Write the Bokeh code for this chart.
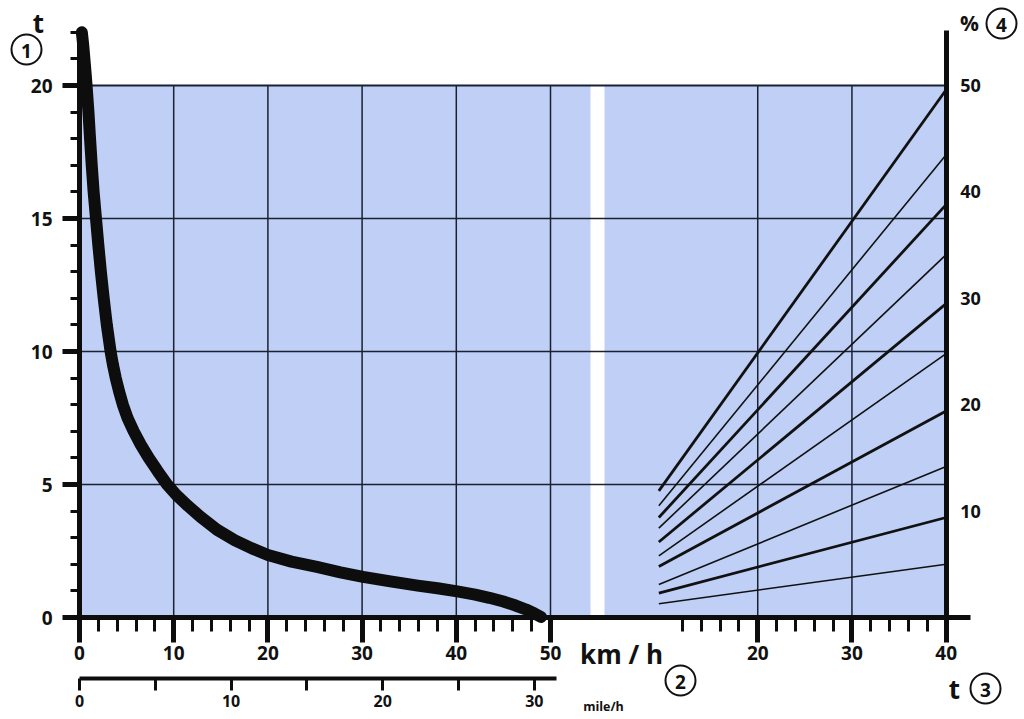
from bokeh.plotting import figure
from bokeh.models import Range1d, LinearAxis, FixedTicker, ColumnDataSource
from bokeh.core.properties import value
from bokeh.embed import file_html
from bokeh.resources import INLINE

# ---------------- data ----------------
# left diagram: time t vs speed km/h (thick curve)
speed_kmh = [0.25, 0.4, 0.52, 0.64, 0.75, 0.95, 1.12, 1.3, 1.5, 1.75, 2.0, 2.27, 2.57,
             2.9, 3.3, 3.55, 3.85, 4.2, 4.6, 5.1, 5.75, 6.5, 7.35, 8.3, 9.3, 10.3, 11.5,
             12.8, 14.6, 16.5, 18.3, 20.0, 22.5, 25.2, 27.7, 30.1, 33.0, 35.9, 38.0,
             40.1, 42.0, 43.5, 45.0, 46.3, 47.4, 48.3, 49.0]
time_t = [22.0, 21.5, 21.0, 20.5, 20.0, 19.0, 18.0, 17.0, 16.0, 15.0, 14.0, 13.0, 12.0,
          11.0, 10.0, 9.5, 9.0, 8.5, 8.0, 7.5, 7.0, 6.5, 6.0, 5.5, 5.0, 4.6, 4.2,
          3.8, 3.3, 2.9, 2.6, 2.35, 2.1, 1.9, 1.7, 1.53, 1.36, 1.2, 1.1,
          0.98, 0.86, 0.74, 0.6, 0.45, 0.3, 0.15, 0.02]

# right diagram: % vs t (fan of lines)
fan_t_start = 9.5
fan_t_end = 40
fan_pct_start = [11.9, 10.5, 9.4, 8.4, 7.1, 5.8, 4.8, 3.1, 2.3, 1.3]
fan_pct_end = [49.6, 43.5, 38.8, 34.1, 29.5, 24.8, 19.4, 14.2, 9.4, 5.0]
fan_thick = [True, False, True, False, True, False, True, False, True, False]

# axes / ticks
y_ticks = [0, 5, 10, 15, 20]
y_minor = [i for i in range(1, 23) if i % 5]
kmh_ticks = [0, 10, 20, 30, 40, 50]
kmh_minor = [v for v in range(2, 50, 2) if v % 10]
t_right_ticks = [20, 30, 40]
t_right_minor = [t for t in range(12, 40, 2) if t % 10]
pct_ticks = [10, 20, 30, 40, 50]
mph_ticks = [0, 5, 10, 15, 20, 25, 30]
mph_hidden = [5, 15, 25]
grid_kmh = [10, 20, 30, 40, 50]
grid_t_right = [20, 30]
grid_t = [5, 10, 15, 20]

# ---------------- layout helpers ----------------
T_OFFSET = 52          # right diagram t is drawn at km/h position t + 52
KMH_PER_MPH = 1.609344
PCT_PER_T = 2.5        # right % scale: 50 % at t = 20 of left scale
PXV, PXT = 9.42, 26.6
X0, Y0 = 79, 617
W, H = 1024, 719


def dx(sx):
    return (sx - X0) / PXV


def dy(sy):
    return (Y0 - sy) / PXT


p = figure(width=W, height=H, x_range=Range1d(dx(0), dx(W)),
           y_range=Range1d(dy(H), dy(0)), output_backend="svg",
           toolbar_location=None, min_border=0, x_axis_type=None, y_axis_type=None)
p.outline_line_color = None
p.background_fill_color = "white"
p.extra_y_ranges = {"pct": Range1d(PCT_PER_T * dy(H), PCT_PER_T * dy(0))}
p.extra_x_ranges = {"mph": Range1d(dx(0) / KMH_PER_MPH, dx(W) / KMH_PER_MPH)}

BLUE = "#bfcff5"
GRID = "#1b2133"
FONT = value("Open Sans")

# blue panels
gap_l, gap_r = dx(590), dx(604)
p.quad(left=[0, gap_r], right=[gap_l, fan_t_end + T_OFFSET], bottom=0, top=20,
       fill_color=BLUE, line_color=None)

# grid
p.segment(x0=grid_kmh, y0=0, x1=grid_kmh, y1=20, line_color=GRID, line_width=1.5)
gr = [t + T_OFFSET for t in grid_t_right]
p.segment(x0=gr, y0=0, x1=gr, y1=20, line_color=GRID, line_width=1.5)
p.segment(x0=0, y0=grid_t, x1=fan_t_end + T_OFFSET, y1=grid_t, line_color=GRID,
          line_width=[1.5, 1.5, 1.5, 2])

# fan lines
fan_src = ColumnDataSource(dict(
    xs=[[fan_t_start + T_OFFSET, fan_t_end + T_OFFSET] for _ in fan_pct_start],
    ys=[[a, b] for a, b in zip(fan_pct_start, fan_pct_end)],
    lw=[2.8 if k else 1.6 for k in fan_thick]))
p.multi_line(xs="xs", ys="ys", line_width="lw", line_color="#111111",
             y_range_name="pct", source=fan_src)

# thick curve
p.line(speed_kmh, time_t, line_width=12, line_color="#0d0d0d",
       line_cap="round", line_join="round")


def style(ax, size):
    ax.major_label_text_font = "Open Sans"
    ax.major_label_text_font_style = "bold"
    ax.major_label_text_font_size = size
    ax.major_label_text_color = "#111111"
    ax.axis_line_color = "#0d0d0d"
    ax.major_tick_line_color = "#0d0d0d"
    ax.minor_tick_line_color = "#0d0d0d"
    ax.major_tick_in = 0
    ax.minor_tick_in = 0


# left axis (t)
yl = LinearAxis(fixed_location=0, bounds=(0, dy(30)),
                ticker=FixedTicker(ticks=y_ticks, minor_ticks=y_minor))
style(yl, "19px")
yl.axis_line_width = 5
yl.major_tick_out = 17
yl.major_tick_line_width = 5
yl.minor_tick_out = 9
yl.minor_tick_line_width = 3
yl.major_label_standoff = 10
p.add_layout(yl, "left")

# bottom axis (km/h and right t)
xb = LinearAxis(fixed_location=0, bounds=(0, dx(970)),
                ticker=FixedTicker(ticks=kmh_ticks + [t + T_OFFSET for t in t_right_ticks],
                                   minor_ticks=kmh_minor + [t + T_OFFSET for t in t_right_minor]))
xb.major_label_overrides = {t + T_OFFSET: str(t) for t in t_right_ticks}
style(xb, "19px")
xb.axis_line_width = 5
xb.major_tick_out = 25
xb.major_tick_line_width = 5
xb.minor_tick_out = 14
xb.minor_tick_line_width = 3
xb.major_label_standoff = 3
p.add_layout(xb, "below")

# right axis (%)
yr = LinearAxis(y_range_name="pct", fixed_location=fan_t_end + T_OFFSET,
                bounds=(0, PCT_PER_T * dy(30)),
                ticker=FixedTicker(ticks=pct_ticks, minor_ticks=[]))
style(yr, "18px")
yr.axis_line_width = 5
yr.major_tick_out = 0
yr.minor_tick_out = 0
yr.major_label_standoff = 14
p.add_layout(yr, "right")

# mile/h axis
xm = LinearAxis(x_range_name="mph", fixed_location=dy(678),
                bounds=(0, dx(556) / KMH_PER_MPH),
                ticker=FixedTicker(ticks=mph_ticks, minor_ticks=[]))
xm.major_label_overrides = {m: "" for m in mph_hidden}
style(xm, "16px")
xm.axis_line_width = 4
xm.major_tick_out = 12
xm.major_tick_line_width = 3
xm.major_label_standoff = 4
p.add_layout(xm, "below")

# texts
texts = [("t", 38, 22, "26px"), ("%", 969, 22, "21px"), ("km / h", 621, 653, "26px"),
         ("t", 954, 688, "26px"), ("mile/h", 603, 706, "12.5px")]
for s, sx, sy, fs in texts:
    p.text(x=[dx(sx)], y=[dy(sy)], text=[s], text_font=FONT, text_font_style="bold",
           text_font_size=fs, text_align="center", text_baseline="middle",
           text_color="#111111")

circles = [("1", 26, 49), ("2", 680, 680), ("3", 985, 688), ("4", 1001, 23)]
p.scatter(x=[dx(c[1]) for c in circles], y=[dy(c[2]) for c in circles], marker="circle",
          size=30, fill_color=None, line_color="#111111", line_width=2)
p.text(x=[dx(c[1]) for c in circles], y=[dy(c[2] + 1) for c in circles],
       text=[c[0] for c in circles], text_font=FONT, text_font_style="bold",
       text_font_size="19px", text_align="center", text_baseline="middle",
       text_color="#111111")

open("out.html", "w").write(file_html(p, INLINE))
